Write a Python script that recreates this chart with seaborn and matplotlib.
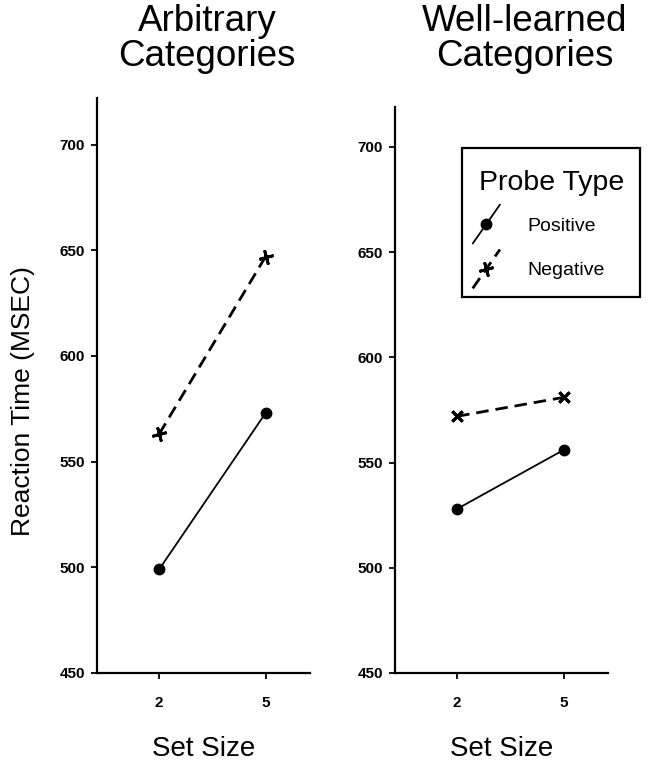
import numpy as np
import pandas as pd
import matplotlib
matplotlib.use("Agg")
import matplotlib.pyplot as plt
import seaborn as sns
from matplotlib.lines import Line2D
from matplotlib.legend_handler import HandlerLine2D

# data (reaction time, msec)
set_sizes = [2, 5]
probe_types = ["Positive", "Negative"]
arbitrary_pos = [499, 573]
arbitrary_neg = [563, 647]
learned_pos = [528, 556]
learned_neg = [572, 581]

panels = {
    "Arbitrary\nCategories": (arbitrary_pos, arbitrary_neg),
    "Well-learned\nCategories": (learned_pos, learned_neg),
}


class SlantHandler(HandlerLine2D):
    """Legend sample drawn as a short slanted line with the marker in the middle."""

    def create_artists(self, legend, orig_handle, xdescent, ydescent,
                       width, height, fontsize, trans):
        x0 = -xdescent - 0.3 * fontsize
        x1 = x0 + width
        yc = -ydescent + height / 2
        y0, y1 = yc - 1.0 * fontsize, yc + 1.0 * fontsize
        line = Line2D([x0, x1], [y0, y1])
        self.update_prop(line, orig_handle, legend)
        line.set_marker("")
        mark = Line2D([(x0 + x1) / 2], [yc])
        self.update_prop(mark, orig_handle, legend)
        mark.set_linestyle("")
        line.set_transform(trans)
        mark.set_transform(trans)
        return [line, mark]


sns.set_style("ticks")
plt.rcParams["font.family"] = ["Liberation Sans", "DejaVu Sans"]
for key in ["text.color", "axes.labelcolor", "xtick.color", "ytick.color",
            "axes.edgecolor"]:
    plt.rcParams[key] = "black"

fig = plt.figure(figsize=(6.67, 7.65), dpi=100)
ax_l = fig.add_axes([97 / 667, 1 - 673 / 765, 213 / 667, 575 / 765])
ax_r = fig.add_axes([395 / 667, 1 - 673 / 765, 213 / 667, 566 / 765])

neg_markers = [(4, 2, 15), (4, 2, 45)]
for i, (ax, (pos, neg)) in enumerate(zip([ax_l, ax_r], panels.values())):
    styles = {
        "Positive": dict(marker="o", linestyle="-", markersize=6.5,
                         linewidth=1.3),
        "Negative": dict(marker=neg_markers[i], linestyle=(0, (4.5, 2.5)),
                         markersize=10.5, linewidth=2.0),
    }
    for probe, vals in zip(probe_types, [pos, neg]):
        sns.lineplot(x=set_sizes, y=vals, color="black",
                     markeredgewidth=2.0, markeredgecolor="black",
                     label=probe, ax=ax, **styles[probe])

    ax.set_xlim(0.25, 6.25)
    ax.set_ylim(450, 722 if i == 0 else 719)
    ax.set_xticks(set_sizes)
    ax.set_yticks([450, 500, 550, 600, 650, 700])
    ax.tick_params(axis="both", direction="out", length=4.5, width=1.3,
                   labelsize=11)
    ax.tick_params(axis="x", pad=12)
    ax.tick_params(axis="y", pad=4)
    for lab in ax.get_xticklabels() + ax.get_yticklabels():
        lab.set_fontweight("bold")
    sns.despine(ax=ax)
    for side in ["left", "bottom"]:
        ax.spines[side].set_linewidth(1.6)
    ax.set_xlabel("Set Size", fontsize=20, labelpad=19)
    ax.set_ylabel("")

handles, labels = ax_l.get_legend_handles_labels()
ax_l.get_legend().remove()
ax_r.get_legend().remove()

ax_l.set_ylabel("Reaction Time (MSEC)", fontsize=19, labelpad=18, y=0.473)

for x, title in zip([207, 525], panels.keys()):
    fig.text(x / 667, 1 - 4 / 765, title, ha="center", va="top",
             fontsize=26.5, linespacing=1.0)

leg = ax_r.legend(handles, labels, title="Probe Type", loc="upper left",
                  bbox_to_anchor=(0.3146, 0.9276), fontsize=14,
                  title_fontsize=20.5, frameon=True, fancybox=False,
                  edgecolor="black", framealpha=1, borderpad=0.85,
                  handlelength=1.4, handleheight=1.4, handletextpad=1.1,
                  labelspacing=1.15, borderaxespad=0,
                  handler_map={Line2D: SlantHandler()})
leg.get_frame().set_linewidth(1.6)
leg._legend_box.align = "left"
leg.get_title().set_y(-5)

fig.savefig("out.png", dpi=100)
